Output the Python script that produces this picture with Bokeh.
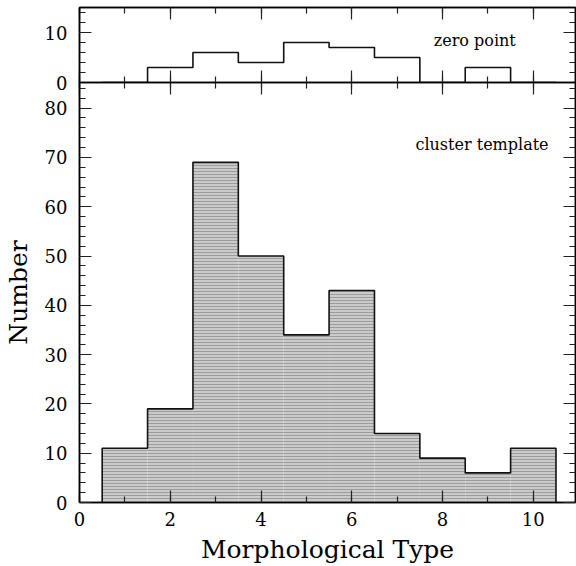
import numpy as np
from bokeh.plotting import figure
from bokeh.layouts import column
from bokeh.models import LinearAxis, SingleIntervalTicker, Range1d
from bokeh.core.properties import value
from bokeh.embed import file_html
from bokeh.resources import INLINE

# ---- data ----
morph_types = [1, 2, 3, 4, 5, 6, 7, 8, 9, 10]
cluster_counts = [11, 19, 69, 50, 34, 43, 14, 9, 6, 11]
zero_point_counts = [0, 3, 6, 4, 8, 7, 5, 0, 3, 0]
x_label = "Morphological Type"
y_label = "Number"
top_note = "zero point"
bottom_note = "cluster template"

SERIF = "DejaVu Serif"
W = 576
LEFT = 79
RIGHT = 1
OVERLAP = 10


def style_axis(ax, interval, show_labels, x_axis):
    ax.ticker = SingleIntervalTicker(interval=interval,
                                     num_minor_ticks=2 if x_axis else 5)
    ax.major_tick_in = 12
    ax.major_tick_out = 0
    ax.minor_tick_in = 6
    ax.minor_tick_out = 0
    ax.axis_line_color = "black"
    ax.axis_line_width = 1.5
    ax.major_tick_line_color = "#222222"
    ax.minor_tick_line_color = "#222222"
    ax.major_tick_line_width = 1.2
    ax.minor_tick_line_width = 1.2
    if show_labels:
        ax.major_label_text_font = SERIF
        ax.major_label_text_font_size = "18px"
        ax.major_label_text_color = "black"
    else:
        ax.major_label_text_font_size = "0px"
        ax.major_label_standoff = 0
        ax.major_label_text_alpha = 0


def outline(centers, counts):
    c = np.asarray(centers, dtype=float)
    edges = np.concatenate([c - 0.5, [c[-1] + 0.5]])
    xs = np.repeat(edges, 2)
    ys = np.concatenate([[0], np.repeat(np.asarray(counts, float), 2), [0]])
    return xs, ys


x_rng_end = 10.93

# ---- top panel ----
top = figure(width=W, height=82 + OVERLAP, output_backend="svg",
             toolbar_location=None,
             x_range=Range1d(0, x_rng_end), y_range=Range1d(0, 15),
             x_axis_location=None, y_axis_location=None,
             min_border_left=LEFT, min_border_right=RIGHT,
             min_border_top=7, min_border_bottom=OVERLAP)
top.outline_line_color = "black"
top.outline_line_width = 1.5
top.border_fill_alpha = 0
top.xgrid.visible = False
top.ygrid.visible = False
for loc, is_x, lab in [("below", True, False), ("above", True, False),
                       ("left", False, True), ("right", False, False)]:
    ax = LinearAxis()
    style_axis(ax, 2 if is_x else 10, lab, is_x)
    if lab:
        ax.major_label_standoff = 12
    top.add_layout(ax, loc)

xs, ys = outline(morph_types, zero_point_counts)
top.line(xs, ys, line_color="#111111", line_width=1.6)
top.text(x=[8.71], y=[8.5], text=[top_note], text_font=value(SERIF),
         text_font_size="16px", text_align="center", text_baseline="middle",
         text_color="black")

# ---- bottom panel ----
bot = figure(width=W, height=484, output_backend="svg", toolbar_location=None,
             x_range=top.x_range, y_range=Range1d(0, 85.2),
             x_axis_location=None, y_axis_location=None,
             min_border_left=LEFT, min_border_right=RIGHT,
             min_border_top=0, min_border_bottom=58,
             margin=(-OVERLAP, 0, 0, 0))
bot.outline_line_color = "black"
bot.outline_line_width = 1.5
bot.border_fill_alpha = 0
bot.xgrid.visible = False
bot.ygrid.visible = False

c = np.asarray(morph_types, float)
bot.quad(left=c - 0.5, right=c + 0.5, bottom=0, top=cluster_counts,
         fill_color="#cbcbcb", line_color=None,
         hatch_pattern="horizontal_line", hatch_color="#9c9c9c",
         hatch_scale=3, hatch_weight=1)
xs, ys = outline(morph_types, cluster_counts)
bot.line(xs, ys, line_color="#111111", line_width=1.6)
bot.text(x=[8.87], y=[72.6], text=[bottom_note], text_font=value(SERIF),
         text_font_size="16px", text_align="center", text_baseline="middle",
         text_color="black")

for loc, is_x, lab in [("below", True, True), ("above", True, False),
                       ("left", False, True), ("right", False, False)]:
    ax = LinearAxis()
    style_axis(ax, 2 if is_x else 10, lab, is_x)
    if lab:
        ax.axis_label = x_label if is_x else y_label
        ax.axis_label_text_font = SERIF
        ax.axis_label_text_font_style = "normal"
        ax.axis_label_text_font_size = "25px"
        ax.axis_label_text_color = "black"
        ax.major_label_standoff = 9 if is_x else 12
        ax.axis_label_standoff = 6 if is_x else 9
    bot.add_layout(ax, loc)

layout = column(top, bot, spacing=0)
open("out.html", "w").write(file_html(layout, INLINE))
